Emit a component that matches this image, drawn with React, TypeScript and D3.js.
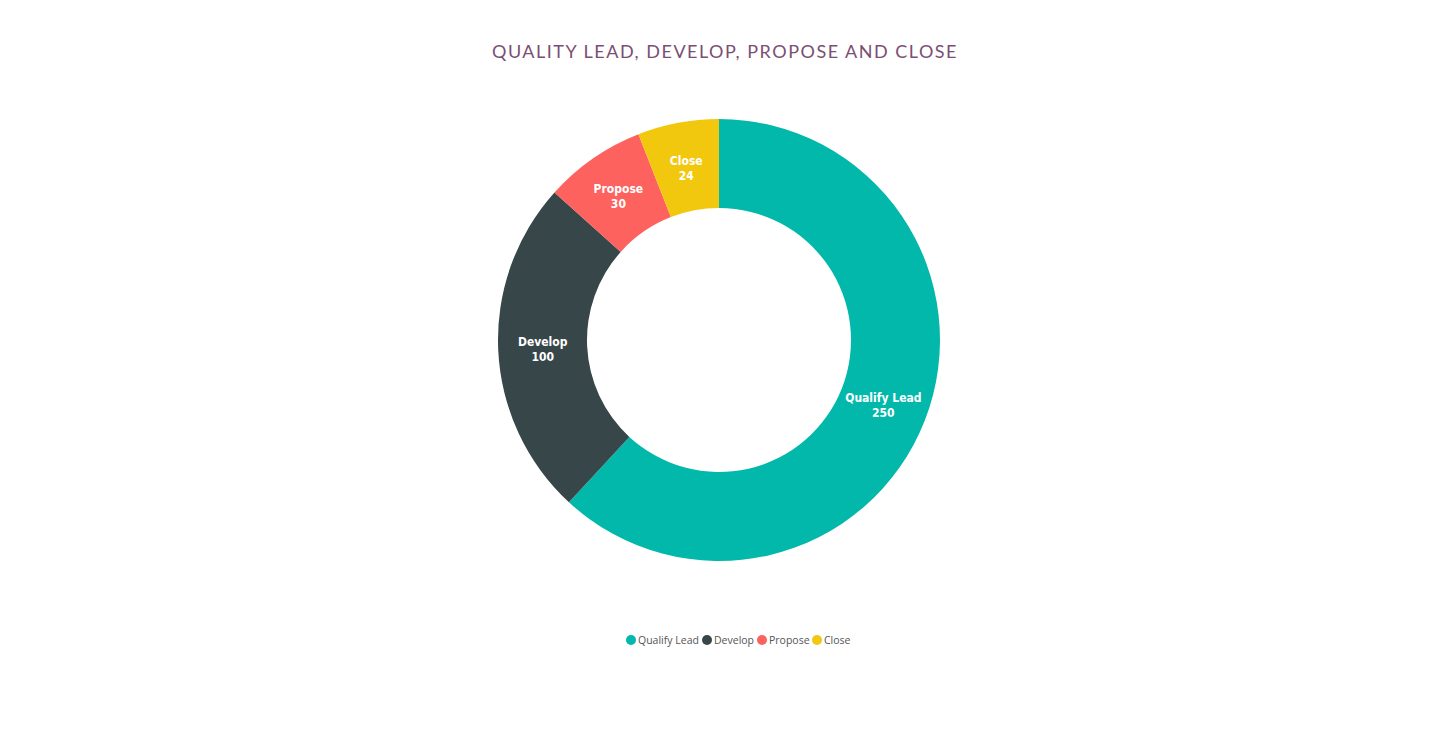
import React, { useRef, useEffect } from 'react';
import * as d3 from 'd3';

const stages = ['Qualify Lead', 'Develop', 'Propose', 'Close'];
const counts = [250, 100, 30, 24];
const palette = ['#01B8AA', '#374649', '#FD625E', '#F2C80F'];
const chartTitle = 'QUALITY LEAD, DEVELOP, PROPOSE AND CLOSE';

const W = 1450;
const H = 750;

const App = () => {
    const svgRef = useRef<SVGSVGElement | null>(null);

    useEffect(() => {
        if (!svgRef.current) return;
        const svg = d3.select(svgRef.current);
        svg.selectAll('*').remove();

        const cx = 719;
        const cy = 340;
        const outerR = 221;
        const innerR = 132;

        // Title
        svg.append('text')
            .attr('x', 725)
            .attr('y', 58)
            .attr('text-anchor', 'middle')
            .attr('font-family', 'Lato, "Open Sans", sans-serif')
            .attr('font-size', 18)
            .attr('letter-spacing', 1.5)
            .attr('fill', '#7B4E73')
            .text(chartTitle);

        const rows = stages.map((s, i) => ({ stage: s, value: counts[i] }));
        const color = d3.scaleOrdinal<string, string>().domain(stages).range(palette);

        const pie = d3.pie<{ stage: string; value: number }>()
            .sort(null)
            .value(d => d.value);

        const arc = d3.arc<d3.PieArcDatum<{ stage: string; value: number }>>()
            .innerRadius(innerR)
            .outerRadius(outerR);

        const g = svg.append('g').attr('transform', `translate(${cx},${cy})`);
        const arcs = pie(rows);

        g.selectAll('path')
            .data(arcs)
            .join('path')
            .attr('d', arc)
            .attr('fill', d => color(d.data.stage));

        // Slice labels
        const labels = g.selectAll('g.lbl')
            .data(arcs)
            .join('g')
            .attr('class', 'lbl')
            .attr('transform', d => {
                const [x, y] = arc.centroid(d);
                return `translate(${x},${y})`;
            })
            .attr('font-family', '"DejaVu Sans Condensed", "DejaVu Sans", sans-serif')
            .attr('font-weight', 'bold')
            .attr('font-size', 12)
            .attr('fill', '#fff')
            .attr('text-anchor', 'middle');

        labels.append('text').attr('y', -2).text(d => d.data.stage);
        labels.append('text').attr('y', 13).text(d => d.data.value);

        // Legend
        const legend = svg.append('g')
            .attr('font-family', '"Open Sans", "Noto Sans", sans-serif')
            .attr('font-size', 10.5)
            .attr('fill', '#555');
        const legendX = [631, 707, 762, 817];
        const items = legend.selectAll('g')
            .data(stages)
            .join('g')
            .attr('transform', (d, i) => `translate(${legendX[i]},640)`);
        items.append('circle').attr('r', 5).attr('fill', d => color(d));
        items.append('text').attr('x', 7).attr('dy', '0.35em').text(d => d);
    }, []);

    return (
        <svg ref={svgRef} width={W} height={H}
            style={{ position: 'absolute', left: 0, top: 0, background: '#fff' }} />
    );
};

export default App;
